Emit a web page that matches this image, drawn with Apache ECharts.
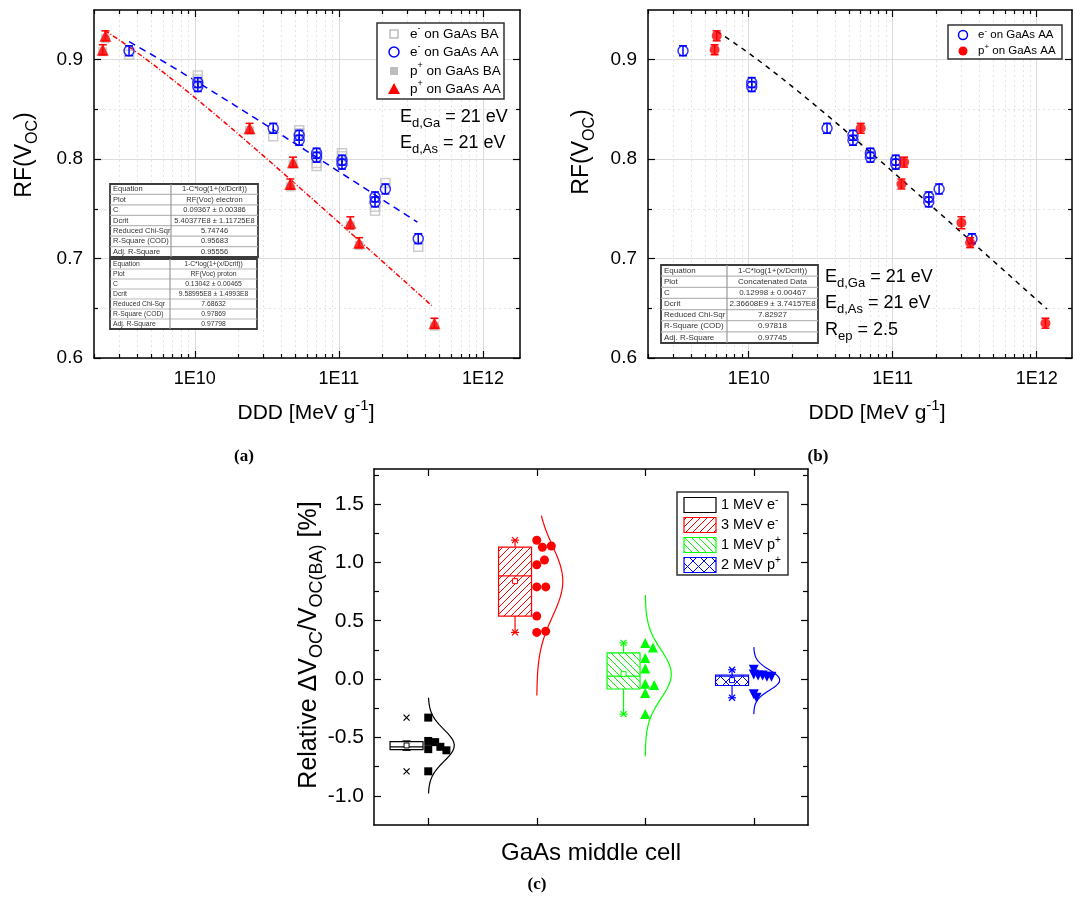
<!DOCTYPE html>
<html><head><meta charset="utf-8">
<script src="https://cdn.jsdelivr.net/npm/echarts@6/dist/echarts.min.js"></script>
<style>html,body{margin:0;padding:0;background:#fff}#c{width:1075px;height:907px}</style>
</head><body><div id="c"></div>
<script>
// ================= DATA =================
// Panel (a)/(b): electron irradiation (DDD in MeV/g)
const eDDD   = [3.5e9, 1.05e10, 1.05e10, 3.5e10, 5.3e10, 5.3e10, 7.0e10, 7.0e10, 1.05e11, 1.05e11, 1.78e11, 1.78e11, 2.1e11, 3.55e11];
const eAA    = [0.909, 0.877, 0.873, 0.831, 0.824, 0.819, 0.806, 0.802, 0.799, 0.795, 0.762, 0.757, 0.770, 0.720];
const eAAerr = [0.005, 0.005, 0.005, 0.005, 0.005, 0.005, 0.005, 0.005, 0.005, 0.005, 0.005, 0.005, 0.005, 0.005];
const eBA    = [0.905, 0.884, 0.880, 0.823, 0.829, 0.826, 0.796, 0.793, 0.806, 0.803, 0.752, 0.748, 0.776, 0.712];
// proton irradiation
const pDDDa  = [2.3e9, 2.4e9, 2.4e10, 4.6e10, 4.8e10, 1.2e11, 1.38e11, 4.6e11];
const pDDDb  = [5.8e9, 6.0e9, 6.0e10, 1.15e11, 1.2e11, 3.0e11, 3.45e11, 1.15e12];
const pAA    = [0.910, 0.924, 0.831, 0.775, 0.797, 0.736, 0.716, 0.635];
const pAAerr = [0.005, 0.005, 0.005, 0.005, 0.005, 0.006, 0.005, 0.005];
const pBA    = [0.908, 0.921, 0.829, 0.772, 0.795, 0.733, 0.713, 0.632];
// Fit parameters RF = 1 - C*log10(1 + x/Dcrit) and drawn range [from, to]
const fitE   = {C: 0.09367, Dcrit: 5.40377e8, from: 3.5e9, to: 3.5e11};
const fitP   = {C: 0.13042, Dcrit: 9.58995e8, from: 2.37e9, to: 4.4e11};
const fitAll = {C: 0.12998, Dcrit: 2.36608e9, from: 6.0e9, to: 1.18e12};
// Fit tables
const tableE = [["Equation","1-C*log(1+(x/Dcrit))"],["Plot","RF(Voc) electron"],["C","0.09367 ± 0.00386"],["Dcrit","5.40377E8 ± 1.11725E8"],["Reduced Chi-Sqr","5.74746"],["R-Square (COD)","0.95683"],["Adj. R-Square","0.95556"]];
const tableP = [["Equation","1-C*log(1+(x/Dcrit))"],["Plot","RF(Voc) proton"],["C","0.13042 ± 0.00465"],["Dcrit","9.58995E8 ± 1.4993E8"],["Reduced Chi-Sqr","7.68632"],["R-Square (COD)","0.97869"],["Adj. R-Square","0.97798"]];
const tableB = [["Equation","1-C*log(1+(x/Dcrit))"],["Plot","Concatenated Data"],["C","0.12998 ± 0.00467"],["Dcrit","2.36608E9 ± 3.74157E8"],["Reduced Chi-Sqr","7.82927"],["R-Square (COD)","0.97818"],["Adj. R-Square","0.97745"]];
// Axis ticks
const rfMajor = [0.6, 0.7, 0.8, 0.9];
const rfMinor = [0.65, 0.75, 0.85];
const dddMajorExp = [10, 11, 12];
// Panel (c): relative change of Voc [%]
const cGroups = ["1 MeV e⁻", "3 MeV e⁻", "1 MeV p⁺", "2 MeV p⁺"];
const g1MeVe = [-0.33, -0.53, -0.54, -0.58, -0.60, -0.61, -0.79];
const g3MeVe = [1.19, 1.13, 1.14, 0.98, 1.02, 0.79, 0.79, 0.54, 0.40, 0.41];
const g1MeVp = [0.31, 0.27, 0.18, 0.09, -0.04, -0.05, -0.12, -0.30];
const g2MeVp = [0.08, 0.04, 0.03, 0.03, 0.02, 0.02, -0.13, -0.16];
const curveLo = [-0.98, -0.14, -0.66, -0.30];
const curveHi = [-0.16, 1.40, 0.72, 0.28];
const cMajor = [-1.0, -0.5, 0.0, 0.5, 1.0, 1.5];
const cMinor = [-0.75, -0.25, 0.25, 0.75, 1.25, 1.75];

// ================= HELPERS =================
const FF = '"Liberation Sans", Arial, Helvetica, sans-serif';
const L10 = Math.log10;
const xMinor = [];
for (let n = 9; n <= 12; n++) for (let k = 2; k <= 9; k++) xMinor.push(n + L10(k));

function ax(o) {
  return {
    type: 'value', gridIndex: o.g, position: o.pos, min: o.min, max: o.max,
    axisLine: {show: !!o.line, onZero: false, lineStyle: {color: '#000', width: 1.5}},
    axisTick: {show: true, inside: true, length: o.tl, customValues: o.ticks, lineStyle: {color: '#000', width: 1.2}},
    axisLabel: o.fmt ? {show: true, customValues: o.ticks, formatter: o.fmt, fontSize: o.fs, fontFamily: FF, color: '#000', margin: o.margin} : {show: false},
    splitLine: o.split ? {show: true, lineStyle: o.split} : {show: false},
    minorTick: {show: false}, minorSplitLine: {show: false}
  };
}
const majorGrid = {color: '#dcdcdc', width: 1, type: 'solid'};
const minorGrid = {color: '#e4e4e4', width: 1, type: [2, 3]};
const fmtE = v => '1E' + Math.round(v);
const fmt1 = v => v.toFixed(1);

function rich(fs) {
  const s = Math.round(fs * 0.7);
  return {
    n: {fontSize: fs, fontFamily: FF, lineHeight: Math.round(fs * 1.4), verticalAlign: 'middle', color: '#000'},
    b: {fontSize: s, fontFamily: FF, lineHeight: Math.round(fs * 0.75), verticalAlign: 'bottom', color: '#000'},
    p: {fontSize: s, fontFamily: FF, lineHeight: Math.round(fs * 0.75), verticalAlign: 'top', color: '#000'}
  };
}
function rtext(x, y, txt, fs, align, rot) {
  return {type: 'text', x: x, y: y, rotation: rot || 0, z: 100,
    style: {text: txt, rich: rich(fs), align: align || 'left', verticalAlign: 'middle', fontFamily: FF, fontSize: fs}};
}
function fitCurve(f) {
  const pts = [], a = L10(f.from), b = L10(f.to), N = 80;
  for (let i = 0; i <= N; i++) { const lx = a + (b - a) * i / N; pts.push([lx, 1 - f.C * L10(1 + Math.pow(10, lx) / f.Dcrit)]); }
  return pts;
}
function errRender(color) {
  return function (params, api) {
    const x = api.value(0), v = api.value(1), e = api.value(2);
    const p1 = api.coord([x, v + e]), p2 = api.coord([x, v - e]), h = 4;
    const st = {stroke: color, lineWidth: 1.5};
    return {type: 'group', children: [
      {type: 'line', shape: {x1: p1[0], y1: p1[1], x2: p2[0], y2: p2[1]}, style: st},
      {type: 'line', shape: {x1: p1[0] - h, y1: p1[1], x2: p1[0] + h, y2: p1[1]}, style: st},
      {type: 'line', shape: {x1: p2[0] - h, y1: p2[1], x2: p2[0] + h, y2: p2[1]}, style: st}
    ]};
  };
}
function table(x, y, w, h, divX, rows, fs) {
  const rh = h / rows.length, els = [];
  els.push({type: 'rect', z: 100, shape: {x: x, y: y, width: w, height: h}, style: {fill: '#fff', stroke: '#3c3c3c', lineWidth: 1.8}});
  for (let r = 1; r < rows.length; r++) els.push({type: 'line', z: 100, shape: {x1: x, y1: y + r * rh, x2: x + w, y2: y + r * rh}, style: {stroke: '#b8b8b8', lineWidth: 1.2}});
  els.push({type: 'line', z: 100, shape: {x1: divX, y1: y, x2: divX, y2: y + h}, style: {stroke: '#9a9a9a', lineWidth: 1.2}});
  rows.forEach((r, i) => {
    els.push({type: 'text', z: 101, x: x + 3, y: y + (i + 0.5) * rh, style: {text: r[0], fontSize: fs, fontFamily: FF, fill: '#333', verticalAlign: 'middle', align: 'left'}});
    els.push({type: 'text', z: 101, x: (divX + x + w) / 2, y: y + (i + 0.5) * rh, style: {text: r[1], fontSize: fs, fontFamily: FF, fill: '#333', verticalAlign: 'middle', align: 'center'}});
  });
  return els;
}
function hatch(color, kind, size) {
  const cv = document.createElement('canvas'); cv.width = cv.height = size;
  const g = cv.getContext('2d'); g.fillStyle = '#fff'; g.fillRect(0, 0, size, size);
  g.strokeStyle = color; g.lineWidth = 1;
  const seg = (a, b, c, d) => { g.beginPath(); g.moveTo(a, b); g.lineTo(c, d); g.stroke(); };
  if (kind === '/' || kind === 'x') { seg(-1, size + 1, size + 1, -1); seg(-1, 1, 1, -1); seg(size - 1, size + 1, size + 1, size - 1); }
  if (kind === '\\' || kind === 'x') { seg(-1, -1, size + 1, size + 1); seg(size - 1, -1, size + 1, 1); seg(-1, size - 1, 1, size + 1); }
  return {image: cv, repeat: 'repeat'};
}
function stats(vals) {
  const s = vals.slice().sort((a, b) => a - b), n = s.length;
  const med = a => { const m = a.length; return m % 2 ? a[(m - 1) / 2] : (a[m / 2 - 1] + a[m / 2]) / 2; };
  const half = Math.ceil(n / 2);
  const q1 = med(s.slice(0, half)), q3 = med(s.slice(n - half)), md = med(s), iqr = q3 - q1;
  const wlo = Math.min(...s.filter(v => v >= q1 - 1.5 * iqr));
  const whi = Math.max(...s.filter(v => v <= q3 + 1.5 * iqr));
  const mean = s.reduce((a, b) => a + b, 0) / n;
  const sd = Math.sqrt(s.reduce((a, b) => a + (b - mean) ** 2, 0) / (n - 1));
  return {q1, q3, md, wlo, whi, min: s[0], max: s[n - 1], mean, sd};
}
// one-sided beeswarm offsets (pixels) for markers of diameter D
const C_XU = 434 / 4, C_YU = 356 / 3.05;
function swarm(vals, D) {
  const placed = [];
  return vals.map(v => {
    const y = v * C_YU, cands = [0];
    placed.forEach(p => { const dy = Math.abs(p.y - y); if (dy < D) cands.push(p.x + Math.sqrt(D * D - dy * dy)); });
    cands.sort((a, b) => a - b);
    const x = cands.find(c => placed.every(p => (p.x - c) ** 2 + (p.y - y) ** 2 >= D * D - 1e-6));
    placed.push({x, y}); return x;
  });
}

// ================= PANEL C derived =================
const cData = [g1MeVe, g3MeVe, g1MeVp, g2MeVp];
const cColors = ['#000000', '#ff0000', '#00ff00', '#0000ff'];
const cPatterns = [null, hatch('#ff0000', '/', 7), hatch('#00ff00', '\\', 7), hatch('#0000ff', 'x', 11)];
const cSymbols = ['rect', 'circle', 'triangle', 'triangle'];
const cSizes = [8, 9, 10, 10];
const cRot = [0, 0, 0, 180];
const cSpread = [7, 9, 9, 4.5];
const cStats = cData.map(stats);
const boxData = cStats.map((s, i) => [i + 1, s.q1, s.md, s.q3, s.wlo, s.whi, s.min, s.max, s.mean]);

const cSeries = [];
cSeries.push({
  type: 'custom', xAxisIndex: 8, yAxisIndex: 8, data: boxData, encode: {x: 0, y: 2}, z: 3,
  renderItem: function (params, api) {
    const i = params.dataIndex, col = cColors[i];
    const cx = api.value(0) - 0.2;
    const X = api.coord([cx, 0])[0], xl = api.coord([cx - 0.152, 0])[0], xr = api.coord([cx + 0.152, 0])[0];
    const Y = k => api.coord([cx, api.value(k)])[1];
    const yq1 = Y(1), ymd = Y(2), yq3 = Y(3), ywl = Y(4), ywh = Y(5), ymn = Y(6), ymx = Y(7), ymean = Y(8);
    const st = {stroke: col, lineWidth: 1.2, fill: null};
    const ln = (a, b, c, d) => ({type: 'line', shape: {x1: a, y1: b, x2: c, y2: d}, style: st});
    const xm = (y) => [ln(X - 3, y - 3, X + 3, y + 3), ln(X - 3, y + 3, X + 3, y - 3)];
    return {type: 'group', children: [
      ln(X, yq3, X, ywh), ln(X, yq1, X, ywl), ln(X - 4, ywh, X + 4, ywh), ln(X - 4, ywl, X + 4, ywl),
      {type: 'rect', shape: {x: xl, y: yq3, width: xr - xl, height: yq1 - yq3}, style: {fill: cPatterns[i] || '#fff', stroke: col, lineWidth: 1.2}},
      ln(xl, ymd, xr, ymd),
      {type: 'rect', shape: {x: X - 2.5, y: ymean - 2.5, width: 5, height: 5}, style: {fill: '#fff', stroke: col, lineWidth: 1}},
      ...xm(ymn), ...xm(ymx)
    ]};
  }
});
cData.forEach((vals, i) => {
  const off = swarm(vals, cSpread[i]);
  cSeries.push({type: 'scatter', xAxisIndex: 8, yAxisIndex: 8, z: 4, symbol: cSymbols[i], symbolSize: cSizes[i], symbolRotate: cRot[i],
    itemStyle: {color: cColors[i], opacity: 1}, data: vals.map((v, k) => [i + 1 + off[k] / C_XU, v])});
  const s = cStats[i], pts = [], N = 100;
  for (let k = 0; k <= N; k++) { const y = curveLo[i] + (curveHi[i] - curveLo[i]) * k / N; pts.push([i + 1 + 0.24 * Math.exp(-((y - s.mean) ** 2) / (2 * s.sd * s.sd)), y]); }
  cSeries.push({type: 'line', xAxisIndex: 8, yAxisIndex: 8, z: 5, data: pts, symbol: 'none', lineStyle: {color: cColors[i], width: 1.2}});
});

// ================= AXES =================
const A = {min: 9.301, max: 12.256}, B = {min: 9.301, max: 12.245};
const xAxes = [
  ax({g: 0, pos: 'bottom', min: A.min, max: A.max, line: true, tl: 7, ticks: dddMajorExp, fmt: fmtE, fs: 18, margin: 12, split: majorGrid}),
  ax({g: 0, pos: 'bottom', min: A.min, max: A.max, tl: 4, ticks: xMinor, split: minorGrid}),
  ax({g: 0, pos: 'top', min: A.min, max: A.max, line: true, tl: 7, ticks: dddMajorExp}),
  ax({g: 0, pos: 'top', min: A.min, max: A.max, tl: 4, ticks: xMinor}),
  ax({g: 1, pos: 'bottom', min: B.min, max: B.max, line: true, tl: 7, ticks: dddMajorExp, fmt: fmtE, fs: 18, margin: 12, split: majorGrid}),
  ax({g: 1, pos: 'bottom', min: B.min, max: B.max, tl: 4, ticks: xMinor, split: minorGrid}),
  ax({g: 1, pos: 'top', min: B.min, max: B.max, line: true, tl: 7, ticks: dddMajorExp}),
  ax({g: 1, pos: 'top', min: B.min, max: B.max, tl: 4, ticks: xMinor}),
  ax({g: 2, pos: 'bottom', min: 0.5, max: 4.5, line: true, tl: 7, ticks: [1, 2, 3, 4]}),
  ax({g: 2, pos: 'top', min: 0.5, max: 4.5, line: true, tl: 7, ticks: [1, 2, 3, 4]})
];
const yAxes = [
  ax({g: 0, pos: 'left', min: 0.6, max: 0.95, line: true, tl: 7, ticks: rfMajor, fmt: fmt1, fs: 19, margin: 11, split: majorGrid}),
  ax({g: 0, pos: 'left', min: 0.6, max: 0.95, tl: 4, ticks: rfMinor, split: minorGrid}),
  ax({g: 0, pos: 'right', min: 0.6, max: 0.95, line: true, tl: 7, ticks: rfMajor}),
  ax({g: 0, pos: 'right', min: 0.6, max: 0.95, tl: 4, ticks: rfMinor}),
  ax({g: 1, pos: 'left', min: 0.6, max: 0.95, line: true, tl: 7, ticks: rfMajor, fmt: fmt1, fs: 19, margin: 11, split: majorGrid}),
  ax({g: 1, pos: 'left', min: 0.6, max: 0.95, tl: 4, ticks: rfMinor, split: minorGrid}),
  ax({g: 1, pos: 'right', min: 0.6, max: 0.95, line: true, tl: 7, ticks: rfMajor}),
  ax({g: 1, pos: 'right', min: 0.6, max: 0.95, tl: 4, ticks: rfMinor}),
  ax({g: 2, pos: 'left', min: -1.25, max: 1.8, line: true, tl: 7, ticks: cMajor, fmt: fmt1, fs: 21, margin: 10}),
  ax({g: 2, pos: 'left', min: -1.25, max: 1.8, tl: 5, ticks: cMinor}),
  ax({g: 2, pos: 'right', min: -1.25, max: 1.8, line: true, tl: 7, ticks: cMajor}),
  ax({g: 2, pos: 'right', min: -1.25, max: 1.8, tl: 5, ticks: cMinor})
];

// ================= SERIES A/B =================
const eX = eDDD.map(L10);
const series = [
  // (a)
  {type: 'scatter', xAxisIndex: 0, yAxisIndex: 0, z: 2, symbol: 'rect', symbolSize: 9, itemStyle: {color: 'rgba(255,255,255,0)', borderColor: '#c0c0c0', borderWidth: 1.5}, data: eX.map((x, i) => [x, eBA[i]])},
  {type: 'scatter', xAxisIndex: 0, yAxisIndex: 0, z: 2, symbol: 'rect', symbolSize: 9, itemStyle: {color: '#bdbdbd'}, data: pDDDa.map((d, i) => [L10(d), pBA[i]])},
  {type: 'line', xAxisIndex: 0, yAxisIndex: 0, z: 2, symbol: 'none', data: fitCurve(fitE), lineStyle: {color: '#0000ff', width: 1.5, type: [7, 5]}},
  {type: 'line', xAxisIndex: 0, yAxisIndex: 0, z: 2, symbol: 'none', data: fitCurve(fitP), lineStyle: {color: '#ff0000', width: 1.5, type: [5, 2, 1, 2]}},
  {type: 'custom', xAxisIndex: 0, yAxisIndex: 0, z: 3, encode: {x: 0, y: 1}, renderItem: errRender('#0000ff'), data: eX.map((x, i) => [x, eAA[i], eAAerr[i]])},
  {type: 'scatter', xAxisIndex: 0, yAxisIndex: 0, z: 3, symbol: 'circle', symbolSize: 10, itemStyle: {color: 'rgba(255,255,255,0)', borderColor: '#0000ff', borderWidth: 1.5}, data: eX.map((x, i) => [x, eAA[i]])},
  {type: 'custom', xAxisIndex: 0, yAxisIndex: 0, z: 4, encode: {x: 0, y: 1}, renderItem: errRender('#ff0000'), data: pDDDa.map((d, i) => [L10(d), pAA[i], pAAerr[i]])},
  {type: 'scatter', xAxisIndex: 0, yAxisIndex: 0, z: 4, symbol: 'triangle', symbolSize: 12, itemStyle: {color: '#ff0000'}, data: pDDDa.map((d, i) => [L10(d), pAA[i]])},
  // (b)
  {type: 'line', xAxisIndex: 4, yAxisIndex: 4, z: 2, symbol: 'none', data: fitCurve(fitAll), lineStyle: {color: '#000', width: 1.5, type: [5, 5]}},
  {type: 'custom', xAxisIndex: 4, yAxisIndex: 4, z: 3, encode: {x: 0, y: 1}, renderItem: errRender('#0000ff'), data: eX.map((x, i) => [x, eAA[i], eAAerr[i]])},
  {type: 'scatter', xAxisIndex: 4, yAxisIndex: 4, z: 3, symbol: 'circle', symbolSize: 10, itemStyle: {color: 'rgba(255,255,255,0)', borderColor: '#0000ff', borderWidth: 1.5}, data: eX.map((x, i) => [x, eAA[i]])},
  {type: 'custom', xAxisIndex: 4, yAxisIndex: 4, z: 4, encode: {x: 0, y: 1}, renderItem: errRender('#ff0000'), data: pDDDb.map((d, i) => [L10(d), pAA[i], pAAerr[i]])},
  {type: 'scatter', xAxisIndex: 4, yAxisIndex: 4, z: 4, symbol: 'circle', symbolSize: 10, itemStyle: {color: '#ff0000'}, data: pDDDb.map((d, i) => [L10(d), pAA[i]])}
].concat(cSeries);

// ================= GRAPHICS =================
const G = [];
// axis titles
G.push(rtext(25, 155, '{n|RF(V}{b|OC}{n|)}', 23, 'center', Math.PI / 2));
G.push(rtext(306, 413, '{n|DDD [MeV g}{p|-1}{n|]}', 21, 'center'));
G.push(rtext(582, 152, '{n|RF(V}{b|OC}{n|)}', 23, 'center', Math.PI / 2));
G.push(rtext(877, 413, '{n|DDD [MeV g}{p|-1}{n|]}', 21, 'center'));
G.push(rtext(309, 645, '{n|Relative ΔV}{b|OC}{n|/V}{b|OC(BA)}{n| [%]}', 25, 'center', Math.PI / 2));
G.push(rtext(591, 853, '{n|GaAs middle cell}', 24, 'center'));
// annotations
G.push(rtext(400, 117, '{n|E}{b|d,Ga}{n| = 21 eV}', 18));
G.push(rtext(400, 143, '{n|E}{b|d,As}{n| = 21 eV}', 18));
G.push(rtext(825, 277, '{n|E}{b|d,Ga}{n| = 21 eV}', 18));
G.push(rtext(825, 303, '{n|E}{b|d,As}{n| = 21 eV}', 18));
G.push(rtext(825, 330, '{n|R}{b|ep}{n| = 2.5}', 18));
// captions
[['(a)', 244, 457], ['(b)', 818, 457], ['(c)', 537, 885]].forEach(c => G.push({type: 'text', x: c[1], y: c[2], z: 100,
  style: {text: c[0], fontSize: 17, fontWeight: 'bold', fontFamily: '"Liberation Serif", "DejaVu Serif", serif', fill: '#000', align: 'center', verticalAlign: 'middle'}}));
// tables
G.push(...table(110, 184, 148, 73, 171, tableE, 7.5));
G.push(...table(110, 259, 147, 70, 170, tableP, 6.8));
G.push(...table(661, 265, 157, 78, 727, tableB, 8));
// legend (a)
const legA = [
  {txt: '{n|e}{p|-}{n| on GaAs BA}', sh: {type: 'rect', shape: {x: 390, y: 30, width: 8, height: 8}, style: {fill: 'none', stroke: '#bdbdbd', lineWidth: 1.5}}},
  {txt: '{n|e}{p|-}{n| on GaAs AA}', sh: {type: 'circle', shape: {cx: 394, cy: 52, r: 5}, style: {fill: 'none', stroke: '#0000ff', lineWidth: 1.5}}},
  {txt: '{n|p}{p|+}{n| on GaAs BA}', sh: {type: 'rect', shape: {x: 390, y: 67, width: 8, height: 8}, style: {fill: '#bdbdbd'}}},
  {txt: '{n|p}{p|+}{n| on GaAs AA}', sh: {type: 'polygon', shape: {points: [[394, 83], [388, 94], [400, 94]]}, style: {fill: '#ff0000'}}}
];
G.push({type: 'rect', z: 100, shape: {x: 377, y: 23, width: 127, height: 76}, style: {fill: '#fff', stroke: '#333', lineWidth: 1.5}});
[34, 52, 71, 89].forEach((y, i) => { legA[i].sh.z = 101; G.push(legA[i].sh); G.push(rtext(410, y, legA[i].txt, 13.5)); });
// legend (b)
G.push({type: 'rect', z: 100, shape: {x: 948, y: 25, width: 114, height: 34}, style: {fill: '#fff', stroke: '#333', lineWidth: 1.5}});
G.push({type: 'circle', z: 101, shape: {cx: 963, cy: 35, r: 4.5}, style: {fill: 'none', stroke: '#0000ff', lineWidth: 1.5}});
G.push({type: 'circle', z: 101, shape: {cx: 963, cy: 51, r: 4.5}, style: {fill: '#ff0000'}});
G.push(rtext(978, 35, '{n|e}{p|-}{n| on GaAs AA}', 11.5));
G.push(rtext(978, 51, '{n|p}{p|+}{n| on GaAs AA}', 11.5));
// legend (c)
G.push({type: 'rect', z: 100, shape: {x: 677, y: 492, width: 111, height: 83}, style: {fill: '#fff', stroke: '#333', lineWidth: 1.5}});
const legCtxt = ['{n|1 MeV e}{p|-}', '{n|3 MeV e}{p|-}', '{n|1 MeV p}{p|+}', '{n|2 MeV p}{p|+}'];
[505, 525, 545, 565].forEach((y, i) => {
  G.push({type: 'rect', z: 101, shape: {x: 684, y: y - 7.5, width: 32, height: 15}, style: {fill: cPatterns[i] || '#fff', stroke: cColors[i], lineWidth: 1.2}});
  G.push(rtext(721, y, legCtxt[i], 14.5));
});

// ================= CHART =================
const chart = echarts.init(document.getElementById('c'), null, {renderer: 'canvas'});
chart.setOption({
  animation: false,
  backgroundColor: '#fff',
  grid: [
    {left: 94, top: 10, width: 426, height: 348, outerBoundsMode: 'none', containLabel: false},
    {left: 648, top: 10, width: 424, height: 348, outerBoundsMode: 'none', containLabel: false},
    {left: 374, top: 469, width: 434, height: 356, outerBoundsMode: 'none', containLabel: false}
  ],
  xAxis: xAxes, yAxis: yAxes, series: series, graphic: {elements: G}
});
</script></body></html>
